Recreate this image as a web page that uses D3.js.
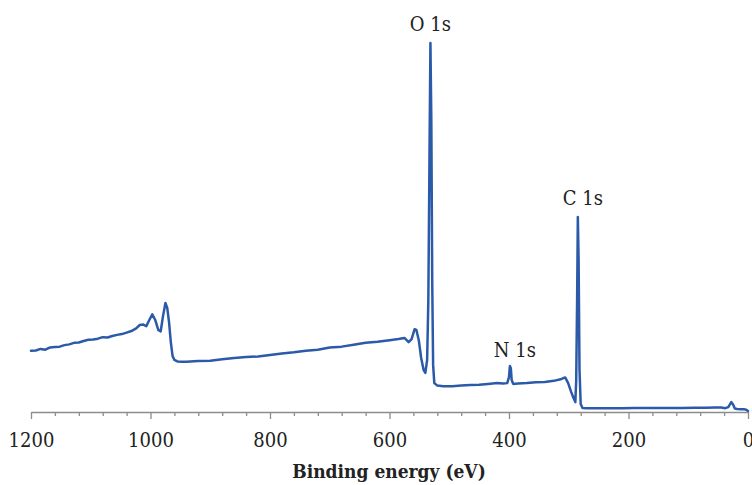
<!DOCTYPE html>
<html>
<head>
<meta charset="utf-8">
<script src="https://cdn.jsdelivr.net/npm/d3@7"></script>
<style>
  html, body { margin: 0; padding: 0; background: #fff; }
  svg { display: block; }
  .serif { font-family: "DejaVu Serif", "Liberation Serif", serif; font-stretch: condensed; }
</style>
</head>
<body>
<svg id="chart" width="752" height="485"></svg>
<script>
// XPS survey spectrum: binding energy (eV) and intensity (arb. units)
const bindingEnergy = [
  1200, 1192, 1184, 1176, 1168, 1160, 1152, 1144, 1136, 1128, 1120, 1112, 1104, 1096, 1088,
  1080, 1072, 1064, 1056, 1048, 1040, 1032, 1024, 1018, 1012, 1007, 1002, 997, 992, 987,
  983, 979, 975, 972, 969, 966, 963, 960, 955, 948,
  940, 920, 900, 880, 860, 840, 820, 800, 780, 760, 740, 720, 700, 680, 660, 640, 620, 600,
  585, 575, 568, 563, 558, 555, 551, 547, 543, 540, 537, 535, 533, 531.5, 530, 528.5, 527,
  525, 520, 510, 495, 480, 465, 450, 435, 420, 410, 403, 400, 398.5, 397, 395.5, 393,
  385, 370, 355, 340, 325, 312, 306, 301, 296, 292, 289, 287.5, 286, 284.8, 283.5, 282,
  280, 277, 270, 250, 230, 210, 190, 170, 150, 130, 110, 90, 70, 55, 45, 38, 33, 28, 25,
  22, 18, 12, 7, 3, 0
];
const intensity = [
  16.1, 16.2, 16.6, 16.4, 17.0, 17.1, 17.2, 17.6, 17.8, 18.2, 18.3, 18.7, 19.0, 19.1, 19.3,
  19.7, 19.6, 20.0, 20.3, 20.5, 20.9, 21.3, 22.0, 22.9, 23.0, 22.6, 24.2, 25.7, 24.2, 21.6,
  21.2, 25.3, 28.7, 27.4, 23.7, 18.4, 14.7, 13.7, 13.3, 13.2,
  13.2, 13.4, 13.5, 13.9, 14.2, 14.5, 14.6, 15.0, 15.4, 15.7, 16.1, 16.4, 17.0, 17.2, 17.7, 18.2, 18.5, 18.9,
  19.2, 19.5, 18.4, 19.2, 21.8, 21.6, 18.9, 14.2, 11.1, 10.3, 13.7, 29.5, 68.9, 97.1, 76.8, 34.7, 12.4,
  7.6, 7.0, 6.8, 6.8, 7.0, 7.1, 7.2, 7.4, 7.6, 7.5, 7.6, 9.2, 12.1, 11.6, 8.4, 7.4,
  7.5, 7.6, 7.8, 7.9, 8.2, 8.7, 9.1, 7.6, 5.3, 3.7, 2.6, 8.4, 29.5, 51.3, 40.0, 11.1,
  2.1, 1.05, 1.0, 0.97, 1.0, 1.0, 1.05, 1.02, 1.05, 1.08, 1.05, 1.1, 1.13, 1.18, 1.16, 1.0, 1.3, 2.6, 2.0,
  0.9, 0.8, 0.7, 0.75, 0.6, 0.26
];

// Peak annotations
const peakLabels = ["O 1s", "N 1s", "C 1s"];
const peakEnergies = [531.5, 398.5, 284.8];
const peakHeights = [97.1, 12.1, 51.3];

// Axis ticks
const tickStep = 40;
const labelStep = 200;

const svg = d3.select("#chart");
const x = d3.scaleLinear().domain([1200, 0]).range([31, 748]);
const y = d3.scaleLinear().domain([0, 100]).range([412, 32]);

const data = bindingEnergy.map((e, i) => ({ e, v: intensity[i] }));

// Spectrum trace
svg.append("path")
  .datum(data)
  .attr("fill", "none")
  .attr("stroke", "#2b5aa8")
  .attr("stroke-width", 2.5)
  .attr("stroke-linejoin", "round")
  .attr("stroke-linecap", "round")
  .attr("d", d3.line().x(d => x(d.e)).y(d => y(d.v)));

// Bottom axis
const axis = d3.axisBottom(x)
  .tickValues(d3.range(0, 1201, tickStep))
  .tickSizeInner(4)
  .tickSizeOuter(0)
  .tickFormat(d => d % labelStep === 0 ? d : "");

const gx = svg.append("g")
  .attr("transform", `translate(0,${y(0)})`)
  .call(axis);

gx.select(".domain").attr("stroke", "#8c8c8c").attr("stroke-width", 1.5);
gx.selectAll(".tick line")
  .attr("stroke", "#8c8c8c")
  .attr("stroke-width", 1.3)
  .attr("y2", d => d % labelStep === 0 ? 7 : 4);
gx.selectAll(".tick text")
  .attr("class", "serif")
  .attr("y", 35)
  .attr("dy", 0)
  .attr("fill", "#222")
  .style("font-size", "20px");

// Axis title
svg.append("text")
  .attr("class", "serif")
  .attr("x", 389)
  .attr("y", 478)
  .attr("text-anchor", "middle")
  .attr("font-weight", "bold")
  .attr("fill", "#222")
  .style("font-size", "19px")
  .text("Binding energy (eV)");

// Peak labels above each peak
svg.selectAll("text.peak")
  .data(peakLabels)
  .join("text")
  .attr("class", "peak serif")
  .attr("x", (d, i) => x(peakEnergies[i]) + [0, 5, 5][i])
  .attr("y", (d, i) => y(peakHeights[i]) - [12, 9, 12][i])
  .attr("text-anchor", "middle")
  .attr("fill", "#222")
  .style("font-size", "20px")
  .text(d => d);
</script>
</body>
</html>
